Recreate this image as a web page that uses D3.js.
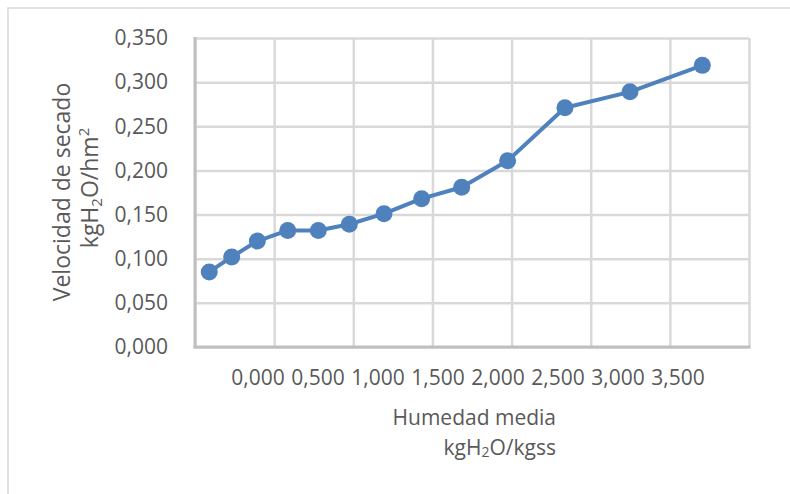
<!DOCTYPE html>
<html>
<head>
<meta charset="utf-8">
<script src="https://cdn.jsdelivr.net/npm/d3@7"></script>
<style>
  body { margin: 0; background: #fff; }
  text { font-family: "Open Sans", sans-serif; fill: #595959; }
</style>
</head>
<body>
<div id="chart-area"></div>
<script>
// data
const humedad = [0.090, 0.232, 0.394, 0.586, 0.779, 0.975, 1.194, 1.432, 1.685, 1.975, 2.337, 2.748, 3.205]
const velocidad = [0.085, 0.102, 0.120, 0.132, 0.132, 0.139, 0.151, 0.168, 0.181, 0.211, 0.271, 0.289, 0.319]
const yTicks = [0, 0.05, 0.10, 0.15, 0.20, 0.25, 0.30, 0.35]
const xGrid = [0, 0.5, 1.0, 1.5, 2.0, 2.5, 3.0, 3.5]
const xLabels = ["0,000", "0,500", "1,000", "1,500", "2,000", "2,500", "3,000", "3,500"]

const W = 790, H = 494
const PLOT = { LEFT: 195, RIGHT: 749, TOP: 38, BOTTOM: 347 }

const locale = d3.formatLocale({ decimal: ",", thousands: ".", grouping: [3], currency: ["", ""] })
const fmt = locale.format(".3f")

const svg = d3.select("#chart-area").append("svg")
  .attr("width", W)
  .attr("height", H)

// chart frame
svg.append("rect")
  .attr("x", 8).attr("y", 8)
  .attr("width", 800).attr("height", 500)
  .attr("fill", "#fff")
  .attr("stroke", "#d9d9d9")
  .attr("stroke-width", 1.5)

const xScale = d3.scaleLinear().domain([0, 3.5]).range([PLOT.LEFT, PLOT.RIGHT])
const yScale = d3.scaleLinear().domain([0, 0.35]).range([PLOT.BOTTOM, PLOT.TOP])

// vertical gridlines
svg.append("g")
  .attr("class", "xGrid")
  .attr("transform", `translate(0,${PLOT.BOTTOM})`)
  .call(d3.axisBottom(xScale).tickValues(xGrid).tickSize(-(PLOT.BOTTOM - PLOT.TOP)).tickFormat(""))
  .call(g => g.select(".domain").remove())
  .selectAll("line").attr("stroke", "#d9d9d9").attr("stroke-width", 2.5)

// horizontal gridlines + labels
svg.append("g")
  .attr("class", "yAxis")
  .attr("transform", `translate(${PLOT.LEFT},0)`)
  .call(d3.axisLeft(yScale).tickValues(yTicks).tickSize(-(PLOT.RIGHT - PLOT.LEFT)).tickPadding(27).tickFormat(fmt))
  .call(g => g.select(".domain").remove())
  .call(g => g.selectAll("line").attr("stroke", "#d9d9d9").attr("stroke-width", 2.5))
  .call(g => g.selectAll("text")
    .attr("font-family", "Open Sans")
    .attr("font-size", 21)
    .attr("fill", "#595959"))

// axis lines
svg.append("line")
  .attr("x1", PLOT.LEFT).attr("x2", PLOT.LEFT)
  .attr("y1", PLOT.TOP - 1).attr("y2", PLOT.BOTTOM + 1.5)
  .attr("stroke", "#bfbfbf").attr("stroke-width", 3)
svg.append("line")
  .attr("x1", PLOT.LEFT - 1.5).attr("x2", PLOT.RIGHT + 1.5)
  .attr("y1", PLOT.BOTTOM).attr("y2", PLOT.BOTTOM)
  .attr("stroke", "#bfbfbf").attr("stroke-width", 3)

// x labels (typed row, not aligned with the gridlines)
const labelScale = d3.scalePoint().domain(xLabels).range([258, 678])
svg.append("g")
  .selectAll("text")
  .data(xLabels)
  .enter().append("text")
  .attr("x", d => labelScale(d))
  .attr("y", 385)
  .attr("text-anchor", "middle")
  .attr("font-size", 21)
  .text(d => d)

// series
const pts = humedad.map((h, i) => ({ x: h, y: velocidad[i] }))
const line = d3.line().x(d => xScale(d.x)).y(d => yScale(d.y))

svg.append("path")
  .datum(pts)
  .attr("d", line)
  .attr("fill", "none")
  .attr("stroke", "#4f81bd")
  .attr("stroke-width", 4)
  .attr("stroke-linejoin", "round")

svg.selectAll(".dot")
  .data(pts)
  .enter().append("circle")
  .attr("class", "dot")
  .attr("cx", d => xScale(d.x))
  .attr("cy", d => yScale(d.y))
  .attr("r", 8.5)
  .attr("fill", "#4f81bd")

// x title, two separate lines
svg.append("text")
  .attr("text-anchor", "end")
  .attr("font-size", 21)
  .attr("x", 556).attr("y", 425)
  .text("Humedad media")
const xt2 = svg.append("text")
  .attr("text-anchor", "end")
  .attr("font-size", 21)
  .attr("x", 556).attr("y", 455)
xt2.append("tspan").text("kgH")
xt2.append("tspan").attr("font-size", 14).attr("dy", 2).text("2")
xt2.append("tspan").attr("dy", -2).text("O/kgss")

// y title, two separate lines
svg.append("text")
  .attr("transform", "rotate(-90)")
  .attr("text-anchor", "middle")
  .attr("font-size", 23)
  .attr("x", -192).attr("y", 70)
  .text("Velocidad de secado")
const yt2 = svg.append("text")
  .attr("transform", "rotate(-90)")
  .attr("text-anchor", "middle")
  .attr("font-size", 23)
  .attr("x", -188).attr("y", 98)
yt2.append("tspan").text("kgH")
yt2.append("tspan").attr("font-size", 15).attr("dy", 4).text("2")
yt2.append("tspan").attr("dy", -4).text("O/hm")
yt2.append("tspan").attr("font-size", 15).attr("dy", -9).text("2")
</script>
</body>
</html>
